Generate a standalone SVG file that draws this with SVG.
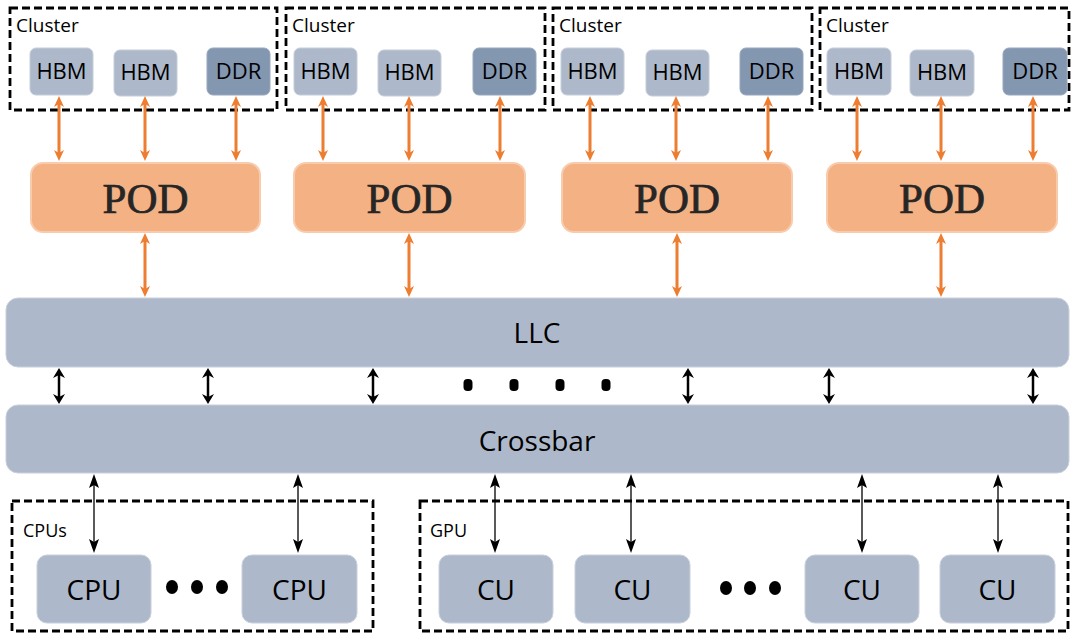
<svg xmlns="http://www.w3.org/2000/svg" width="1073" height="634" viewBox="0 0 1073 634">
<style>
.dash{fill:none;stroke:#000;stroke-width:2.8;stroke-dasharray:8,4}
.hbm{fill:#ADB9CA;stroke:#C5CEDA;stroke-width:1}
.ddr{fill:#8497B0;stroke:#97A7BD;stroke-width:1}
.pod{fill:#F4B183;stroke:#F8CBAD;stroke-width:2}
.bar{fill:#ADB9CA;stroke:#C8D0DC;stroke-width:1}
.t{font-family:"Open Sans",sans-serif;fill:#000;text-anchor:middle}
.lbl{font-family:"Open Sans",sans-serif;fill:#000;font-size:18px}
.podt{font-family:"Liberation Serif",serif;fill:#262626;stroke:#262626;stroke-width:0.7;font-size:43px;text-anchor:middle}
.ao{stroke:#ED7D31;stroke-width:3;fill:none;marker-start:url(#mo);marker-end:url(#mo)}
.ak{stroke:#000;stroke-width:2.5;fill:none;marker-start:url(#mk);marker-end:url(#mk)}
.at{stroke:#000;stroke-width:1.3;fill:none;marker-start:url(#mt);marker-end:url(#mt)}
</style>
<defs>
<marker id="mo" markerUnits="userSpaceOnUse" viewBox="-6 -6 14 12" refX="0" refY="0" markerWidth="14" markerHeight="12" orient="auto-start-reverse"><path d="M7,0 L-4,-5 L-1,0 L-4,5 Z" fill="#ED7D31"/></marker>
<marker id="mk" markerUnits="userSpaceOnUse" viewBox="-6 -7 13 14" refX="0" refY="0" markerWidth="13" markerHeight="14" orient="auto-start-reverse"><path d="M6,0 L-4,-6 L-1,0 L-4,6 Z" fill="#000"/></marker>
<marker id="mt" markerUnits="userSpaceOnUse" viewBox="-7 -6 16 12" refX="0" refY="0" markerWidth="16" markerHeight="12" orient="auto-start-reverse"><path d="M8,0 L-6,-5 L-3,0 L-6,5 Z" fill="#000"/></marker>
</defs>

<g id="cluster1">
<rect class="dash" x="10" y="8" width="267" height="102"/>
<text class="lbl" x="16" y="32" style="font-size:19px">Cluster</text>
<rect class="hbm" x="30" y="48" width="63" height="47" rx="6"/><text class="t" x="61.5" y="79" font-size="22">HBM</text>
<rect class="hbm" x="114" y="50" width="63" height="46" rx="6"/><text class="t" x="145.5" y="80" font-size="22">HBM</text>
<rect class="ddr" x="207" y="48" width="63" height="47" rx="6"/><text class="t" x="238.5" y="79" font-size="22">DDR</text>
</g>
<g id="cluster2">
<rect class="dash" x="286" y="8" width="259" height="102"/>
<text class="lbl" x="292" y="32" style="font-size:19px">Cluster</text>
<rect class="hbm" x="294" y="48" width="63" height="47" rx="6"/><text class="t" x="325.5" y="79" font-size="22">HBM</text>
<rect class="hbm" x="378" y="50" width="63" height="46" rx="6"/><text class="t" x="409.5" y="80" font-size="22">HBM</text>
<rect class="ddr" x="473" y="48" width="63" height="47" rx="6"/><text class="t" x="504.5" y="79" font-size="22">DDR</text>
</g>
<g id="cluster3">
<rect class="dash" x="553" y="8" width="259" height="102"/>
<text class="lbl" x="559" y="32" style="font-size:19px">Cluster</text>
<rect class="hbm" x="561" y="48" width="63" height="47" rx="6"/><text class="t" x="592.5" y="79" font-size="22">HBM</text>
<rect class="hbm" x="646" y="50" width="63" height="46" rx="6"/><text class="t" x="677.5" y="80" font-size="22">HBM</text>
<rect class="ddr" x="740" y="48" width="63" height="47" rx="6"/><text class="t" x="771.5" y="79" font-size="22">DDR</text>
</g>
<g id="cluster4">
<rect class="dash" x="820" y="8" width="249" height="102"/>
<text class="lbl" x="826" y="32" style="font-size:19px">Cluster</text>
<rect class="hbm" x="827" y="48" width="64" height="47" rx="6"/><text class="t" x="859" y="79" font-size="22">HBM</text>
<rect class="hbm" x="910" y="50" width="64" height="46" rx="6"/><text class="t" x="942" y="80" font-size="22">HBM</text>
<rect class="ddr" x="1003" y="48" width="64" height="47" rx="6"/><text class="t" x="1035" y="79" font-size="22">DDR</text>
</g>

<g id="pod1"><rect class="pod" x="31" y="163" width="229" height="69" rx="12"/><text class="podt" x="145.5" y="213">POD</text></g>
<g id="pod2"><rect class="pod" x="294" y="163" width="231" height="69" rx="12"/><text class="podt" x="409.5" y="213">POD</text></g>
<g id="pod3"><rect class="pod" x="562" y="163" width="230" height="69" rx="12"/><text class="podt" x="677" y="213">POD</text></g>
<g id="pod4"><rect class="pod" x="827" y="163" width="230" height="69" rx="12"/><text class="podt" x="942" y="213">POD</text></g>

<g id="llc"><rect class="bar" x="6" y="298" width="1063" height="69" rx="12"/><text class="t" x="537" y="343" font-size="28">LLC</text></g>
<g id="crossbar"><rect class="bar" x="6" y="405" width="1063" height="68" rx="12"/><text class="t" x="537" y="451" font-size="28">Crossbar</text></g>

<g id="cpus">
<rect class="dash" x="12" y="501" width="361" height="130"/>
<text class="lbl" x="23" y="537">CPUs</text>
<rect class="bar" x="37" y="555" width="114" height="68" rx="10"/><text class="t" x="94" y="600" font-size="28">CPU</text>
<rect class="bar" x="242" y="555" width="115" height="68" rx="10"/><text class="t" x="299.5" y="600" font-size="28">CPU</text>
<ellipse cx="172" cy="587" rx="6" ry="7"/><ellipse cx="197" cy="587" rx="6" ry="7"/><ellipse cx="222" cy="587" rx="6" ry="7"/>
</g>
<g id="gpu">
<rect class="dash" x="420" y="501" width="648" height="130"/>
<text class="lbl" x="430" y="537">GPU</text>
<rect class="bar" x="439" y="555" width="114" height="68" rx="10"/><text class="t" x="496" y="600" font-size="28">CU</text>
<rect class="bar" x="575" y="555" width="115" height="68" rx="10"/><text class="t" x="632.5" y="600" font-size="28">CU</text>
<rect class="bar" x="805" y="555" width="114" height="68" rx="10"/><text class="t" x="862" y="600" font-size="28">CU</text>
<rect class="bar" x="940" y="555" width="115" height="68" rx="10"/><text class="t" x="997.5" y="600" font-size="28">CU</text>
<ellipse cx="726" cy="588" rx="6" ry="7"/><ellipse cx="750" cy="588" rx="6" ry="7"/><ellipse cx="775" cy="588" rx="6" ry="7"/>
</g>

<g id="connectors">
<path class="ao" d="M59,103V154"/><path class="ao" d="M145,103V154"/><path class="ao" d="M236,103V154"/>
<path class="ao" d="M323,103V154"/><path class="ao" d="M409,103V154"/><path class="ao" d="M500,103V154"/>
<path class="ao" d="M590,103V154"/><path class="ao" d="M676,103V154"/><path class="ao" d="M768,103V154"/>
<path class="ao" d="M857,103V154"/><path class="ao" d="M941,103V154"/><path class="ao" d="M1033,103V154"/>
<path class="ao" d="M145,240V290"/>
<path class="ao" d="M409,240V290"/>
<path class="ao" d="M677,240V290"/>
<path class="ao" d="M941,240V290"/>
<path class="ak" d="M59,374V398"/>
<path class="ak" d="M208,374V398"/>
<path class="ak" d="M373,374V398"/>
<path class="ak" d="M688,374V398"/>
<path class="ak" d="M829,374V398"/>
<path class="ak" d="M1033,374V398"/>
<rect x="463.5" y="379" width="9" height="12" rx="4"/>
<rect x="509.5" y="379" width="9" height="12" rx="4"/>
<rect x="555.5" y="379" width="9" height="12" rx="4"/>
<rect x="601.5" y="379" width="9" height="12" rx="4"/>
<path class="at" d="M94,482V545"/>
<path class="at" d="M298,482V545"/>
<path class="at" d="M495,482V545"/>
<path class="at" d="M631,482V545"/>
<path class="at" d="M862,482V545"/>
<path class="at" d="M998,482V545"/>
</g>
</svg>
